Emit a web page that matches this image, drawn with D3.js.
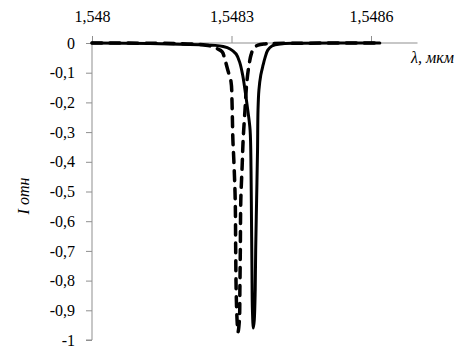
<!DOCTYPE html>
<html><head><meta charset="utf-8">
<script src="https://cdn.jsdelivr.net/npm/d3@7"></script>
<style>body{margin:0;background:#fff}svg{display:block}text{font-family:'Liberation Serif','Times New Roman',serif}</style>
</head><body>
<svg id="c" width="472" height="351"></svg>
<script>
// tick labels
const xTicks = [1.548, 1.5483, 1.5486];
const xTickLabels = ["1,548", "1,5483", "1,5486"];
const yTicks = [0, -0.1, -0.2, -0.3, -0.4, -0.5, -0.6, -0.7, -0.8, -0.9, -1];
const yTickLabels = ["0", "-0,1", "-0,2", "-0,3", "-0,4", "-0,5", "-0,6", "-0,7", "-0,8", "-0,9", "-1"];

// solid curve (wavelength, µm ; relative intensity)
const solidLambda = [1.548000, 1.548125, 1.548189, 1.548232, 1.548265, 1.548282, 1.548297, 1.548310, 1.548318, 1.548324, 1.548329, 1.548335, 1.548340, 1.548342, 1.548343, 1.548344, 1.548345, 1.548347,
  1.548349, 1.548351, 1.548352, 1.548354, 1.548356, 1.548357, 1.548359, 1.548363, 1.548368, 1.548372, 1.548378, 1.548387, 1.548404, 1.548447, 1.548619];
const solidI = [0, -0.002, -0.004, -0.006, -0.008, -0.012, -0.02, -0.037, -0.067, -0.108, -0.158, -0.226, -0.293, -0.428, -0.596, -0.764, -0.899, -0.96,
  -0.933, -0.832, -0.697, -0.529, -0.36, -0.226, -0.158, -0.108, -0.074, -0.05, -0.024, -0.01, -0.003, -0.001, 0];

// dashed curve
const dashLambda = [1.548000, 1.548189, 1.548232, 1.548254, 1.548269, 1.548280, 1.548286, 1.548292, 1.548299, 1.548301, 1.548302, 1.548303, 1.548305, 1.548308, 1.548309, 1.548310, 1.548312, 1.548314,
  1.548317, 1.548318, 1.548319, 1.548320, 1.548323, 1.548325, 1.548329, 1.548333, 1.548338, 1.548342, 1.548348, 1.548357, 1.548372, 1.548426, 1.548619];
const dashI = [0, -0.002, -0.005, -0.01, -0.019, -0.03, -0.057, -0.091, -0.131, -0.192, -0.259, -0.327, -0.394, -0.529, -0.697, -0.832, -0.933, -0.973,
  -0.933, -0.832, -0.697, -0.529, -0.411, -0.327, -0.226, -0.131, -0.071, -0.04, -0.017, -0.007, -0.003, -0.001, 0];

const svg = d3.select("#c");
const x = d3.scaleLinear().domain([1.548, 1.5486]).range([92, 371]);
const y = d3.scaleLinear().domain([0, -1]).range([43, 340]);
const font = "'Liberation Serif', 'Times New Roman', serif";
const axisColor = "#8f8f8f";

// y axis
const yAxis = d3.axisLeft(y).tickValues(yTicks).tickSize(6).tickFormat((d, i) => yTickLabels[i]);
const gy = svg.append("g").attr("transform", "translate(92,0)").call(yAxis).attr("font-family", font);
gy.select(".domain").attr("stroke", axisColor).attr("d", "M0," + y(0) + "V" + y(-1) + "H-6");
gy.selectAll(".tick line").attr("stroke", axisColor);
gy.selectAll(".tick text").attr("x", -17).style("font-family", font).attr("font-size", 16).attr("fill", "#000");

// x axis at y=0, labels above
const xAxis = d3.axisTop(x).tickValues(xTicks).tickSize(7).tickFormat((d, i) => xTickLabels[i]);
const gx = svg.append("g").attr("transform", "translate(0," + y(0) + ")").call(xAxis).attr("font-family", font);
gx.select(".domain").attr("stroke", axisColor).attr("d", "M" + x(1.548) + ",0H" + x(1.5487));
gx.selectAll(".tick line").attr("stroke", axisColor);
gx.selectAll(".tick text").attr("y", -21).style("font-family", font).attr("font-size", 16).attr("fill", "#000");

const line = d3.line().x(d => x(d[0])).y(d => y(d[1])).curve(d3.curveCatmullRom.alpha(0.5));

svg.append("path").datum(d3.zip(solidLambda, solidI)).attr("d", line)
  .attr("fill", "none").attr("stroke", "#000").attr("stroke-width", 3).attr("stroke-linejoin", "round").attr("stroke-linecap", "round");
svg.append("path").datum(d3.zip(dashLambda, dashI)).attr("d", line)
  .attr("fill", "none").attr("stroke", "#000").attr("stroke-width", 3.5).attr("stroke-dasharray", "10,8").attr("stroke-linecap", "round");

// axis titles
svg.append("text").attr("x", 411).attr("y", 63).style("font-family", font).attr("font-style", "italic").attr("font-size", 16).text("λ, мкм");
svg.append("text").attr("transform", "translate(29,196) rotate(-90)").attr("text-anchor", "middle")
  .style("font-family", font).attr("font-style", "italic").attr("font-size", 16).text("I отн");
</script>
</body></html>
